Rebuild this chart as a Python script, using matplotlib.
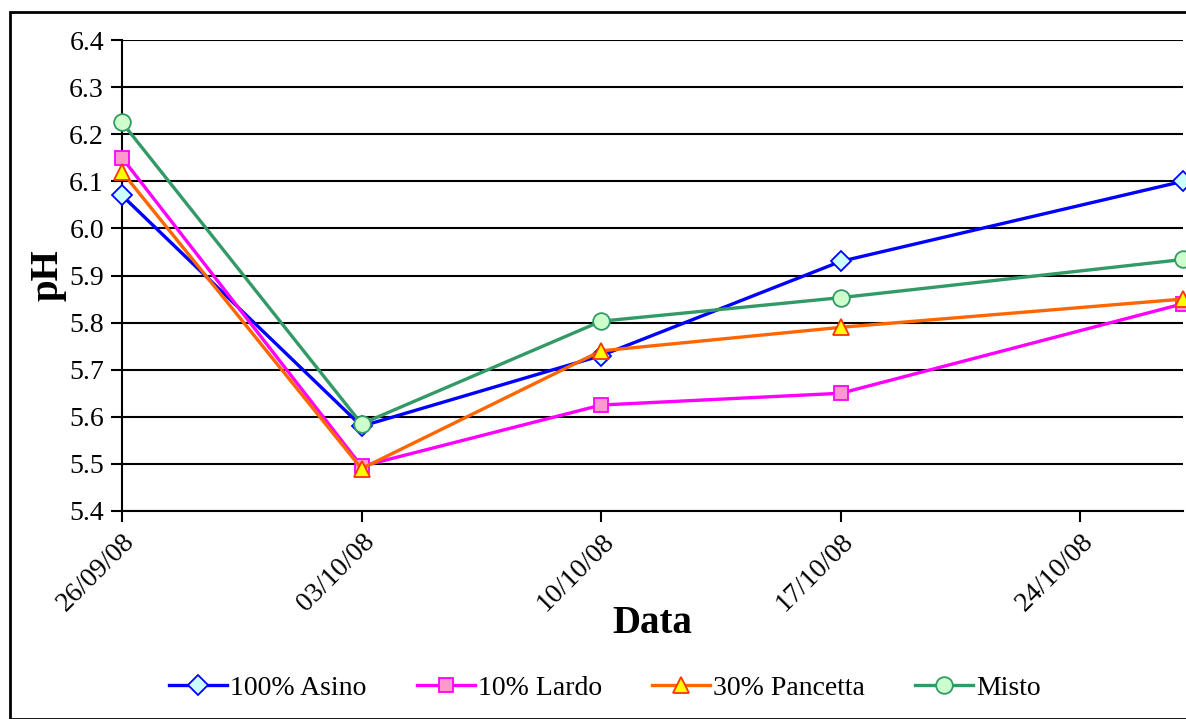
import datetime as dt
import matplotlib
matplotlib.use("Agg")
import matplotlib.pyplot as plt
from matplotlib.patches import Rectangle

plt.rcParams['font.family'] = ['Liberation Serif', 'DejaVu Serif']

date_labels = ["26/09/08", "03/10/08", "10/10/08", "17/10/08", "27/10/08"]
asino = [6.07, 5.58, 5.73, 5.93, 6.10]
lardo = [6.15, 5.495, 5.625, 5.65, 5.84]
pancetta = [6.12, 5.49, 5.74, 5.79, 5.85]
misto = [6.225, 5.585, 5.803, 5.853, 5.934]
tick_labels = ["26/09/08", "03/10/08", "10/10/08", "17/10/08", "24/10/08"]

dates = [dt.datetime.strptime(d, "%d/%m/%y") for d in date_labels]
ticks = [dt.datetime.strptime(d, "%d/%m/%y") for d in tick_labels]

fig = plt.figure(figsize=(11.86, 7.19), dpi=100)
ax = fig.add_axes([122/1186, 1 - 511/719, (1183-122)/1186, (511-40)/719])

series = [
    ("100% Asino", asino, "#0000FF", "D", "#CCFFFF", "#0000FF", 10),
    ("10% Lardo", lardo, "#FF00FF", "s", "#FF99CC", "#FF00FF", 10),
    ("30% Pancetta", pancetta, "#FF6600", "^", "#FFFF00", "#FF3300", 12),
    ("Misto", misto, "#339966", "o", "#CCFFCC", "#339966", 12),
]
for name, vals, col, mk, fc, ec, ms in series:
    ax.plot(dates, vals, color=col, lw=2.4, marker=mk, markersize=ms,
            markerfacecolor=fc, markeredgecolor=ec, markeredgewidth=1.3,
            label=name, clip_on=False, zorder=3)

ax.set_ylim(5.4, 6.4)
ax.set_yticks([5.4 + 0.1*i for i in range(11)])
ax.set_yticklabels([f"{5.4 + 0.1*i:.1f}" for i in range(11)], fontsize=20)
ax.set_xlim(dates[0], dates[-1])
ax.set_xticks(ticks)
ax.set_xticklabels(tick_labels, rotation=45, ha="right", rotation_mode="anchor", fontsize=20)
ax.tick_params(axis="both", direction="out", length=8, width=1.5, color="black", pad=5)
ax.yaxis.grid(True, color="black", lw=1.5)
ax.set_axisbelow(True)
for s in ["top", "right"]:
    ax.spines[s].set_visible(False)
for s in ["left", "bottom"]:
    ax.spines[s].set_linewidth(1.5)

ax.set_xlabel("Data", fontsize=28, fontweight="bold", labelpad=-8)
ax.set_ylabel("pH", fontsize=28, fontweight="bold", labelpad=2)

fig.legend(loc="center", bbox_to_anchor=(0.51, 1 - 688/719), ncol=4, frameon=False,
           fontsize=20, handlelength=2.1, columnspacing=1.8, handletextpad=0.1)

fig.patches.append(Rectangle((10/1186, 0), 1.0, 1 - 12/719, transform=fig.transFigure,
                             fill=False, edgecolor="black", lw=2))

fig.savefig("out.png", dpi=100)
